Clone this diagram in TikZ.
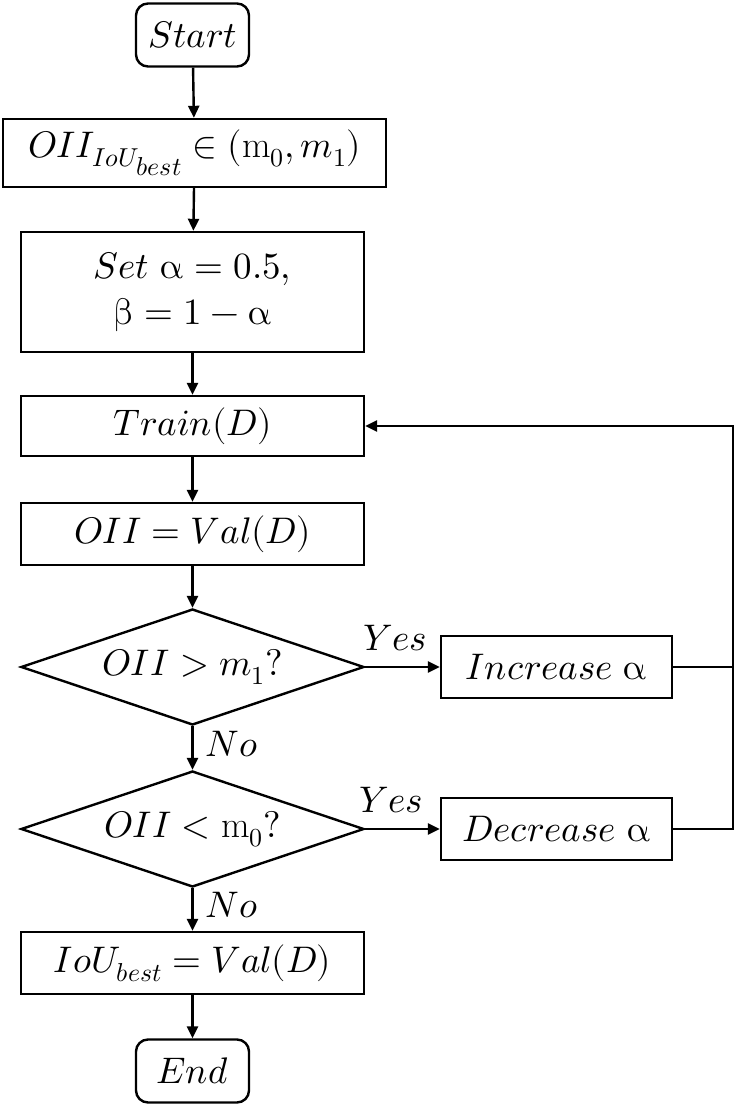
\documentclass[tikz,border=0pt]{standalone}
\usepackage{unicode-math}
\setmathfont{Latin Modern Math}
\usetikzlibrary{shapes.geometric,arrows.meta}
\begin{document}
\begin{tikzpicture}[x=1pt,y=-1pt,
  font=\fontsize{37}{46}\selectfont,
  every path/.style={line width=2.4pt},
  box/.style={draw,rectangle,inner sep=0pt,align=center},
  term/.style={draw,rectangle,rounded corners=12pt,inner sep=0pt,minimum width=113pt,minimum height=63pt},
  dec/.style={draw,diamond,inner sep=0pt,aspect=3,minimum width=343pt,minimum height=116pt},
  arr/.style={-{Triangle[length=12pt,width=11pt]}},
  lbl/.style={inner sep=0pt}]
\useasboundingbox (0,0) rectangle (735,1107);
\node[term] (start) at (192.5,35) {$Start$};
\node[box,minimum width=383pt,minimum height=68pt] (init) at (194.5,153) {$OII_{IoU_{\scriptstyle best}}\in(\mathrm{m}_0,m_1)$};
\node[box,minimum width=343pt,minimum height=120pt] (set) at (192.5,292) {$Set\;\symup{\alpha}=0.5,$\\$\symup{\beta}=1-\symup{\alpha}$};
\node[box,minimum width=343pt,minimum height=60pt] (train) at (192.5,426) {$Train(D)$};
\node[box,minimum width=343pt,minimum height=62pt] (val) at (192.5,534) {$OII=Val(D)$};
\node[dec] (d1) at (192.5,667) {$OII>m_1?$};
\node[box,minimum width=231pt,minimum height=62pt] (inc) at (556.5,667) {$Increase\;\symup{\alpha}$};
\node[dec] (d2) at (192.5,829) {$OII<\mathrm{m}_0?$};
\node[box,minimum width=231pt,minimum height=62pt] (decr) at (556.5,829) {$Decrease\;\symup{\alpha}$};
\node[box,minimum width=343pt,minimum height=62pt] (iou) at (192.5,963) {$IoU_{\scriptstyle best}=Val(D)$};
\node[term] (end) at (192.5,1071) {$End$};
\coordinate (r1) at (733,667);
\coordinate (r2) at (733,829);
\coordinate (r0) at (733,426);
\draw[arr] (start) -- (init);
\draw[arr] (init) -- (set);
\draw[arr] (set) -- (train);
\draw[arr] (train) -- (val);
\draw[arr] (val) -- (d1);
\draw[arr] (d1.east) -- node[lbl,above=15pt,pos=0.4] {$Yes$} (inc.west);
\draw[arr] (d1.south) -- node[lbl,right=12pt,pos=0.4] {$No$} (d2.north);
\draw[arr] (d2.east) -- node[lbl,above=15pt,pos=0.35] {$Yes$} (decr.west);
\draw[arr] (d2.south) -- node[lbl,right=12pt,pos=0.4] {$No$} (iou.north);
\draw[arr] (iou) -- (end);
\draw (inc.east) -- (r1);
\draw[arr] (decr.east) -- (r2) -- (r0) -- (train.east);
\end{tikzpicture}
\end{document}
